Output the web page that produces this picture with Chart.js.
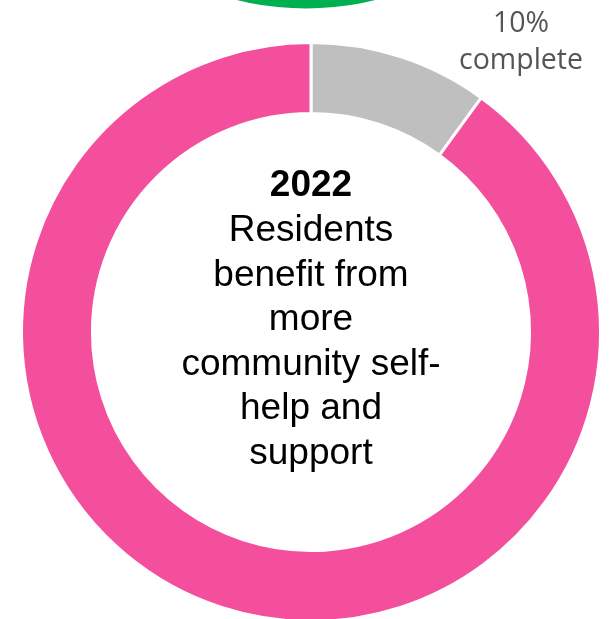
<!DOCTYPE html>
<html>
<head>
<meta charset="utf-8">
<script src="https://cdn.jsdelivr.net/npm/chart.js@4/dist/chart.umd.min.js"></script>
<style>
  html, body { margin: 0; padding: 0; background: #fff; overflow: hidden; width: 616px; height: 619px; }
  #wrap { position: relative; width: 616px; height: 619px; overflow: hidden; }
  #prevChart { position: absolute; left: 16px; top: -570px; }
  #progressChart { position: absolute; left: 0; top: 0; }
</style>
</head>
<body>
<div id="wrap">
  <canvas id="prevChart" width="580" height="580"></canvas>
  <canvas id="progressChart" width="616" height="640"></canvas>
</div>
<script>
// progress ring data
const progress_labels = ["Complete", "Remaining"];
const progress_values = [10, 90];
const progress_colors = ["#BFBFBF", "#F34F9D"];

// ring of the previous year, only its lower edge shows
const prev_labels = ["Complete"];
const prev_values = [100];
const prev_colors = ["#00B050"];

const centre_year = "2022";
const centre_lines = ["Residents", "benefit from", "more", "community self-", "help and", "support"];

//============================== CENTRE TEXT ===========================
const centreText = {
    id: "centreText",
    afterDraw(chart) {
        const ctx = chart.ctx;
        const arc = chart.getDatasetMeta(0).data[0];
        const cx = arc.x;
        ctx.save();
        ctx.textAlign = "center";
        ctx.textBaseline = "alphabetic";
        ctx.fillStyle = "#000";
        ctx.font = "bold 37px 'Liberation Sans', Arial, sans-serif";
        ctx.fillText(centre_year, cx, 196);
        ctx.font = "37px 'Liberation Sans', Arial, sans-serif";
        centre_lines.forEach((line, i) => {
            ctx.fillText(line, cx, 241 + i * 44.6);
        });

        // percentage label above the grey slice
        ctx.fillStyle = "#555555";
        ctx.font = "28.5px 'Open Sans', sans-serif";
        ctx.fillText(progress_values[0] + "%", 521, 32);
        ctx.fillText("complete", 521, 69);
        ctx.restore();
    }
};

const progress_config = {
    type: "doughnut",
    data: {
        labels: progress_labels,
        datasets: [{
            data: progress_values,
            backgroundColor: progress_colors,
            borderColor: "#fff",
            borderWidth: 3,
        }],
    },
    options: {
        responsive: false,
        maintainAspectRatio: false,
        animation: false,
        cutout: "75.5%",
        layout: { padding: { left: 20, right: 14, top: 41, bottom: 17 } },
        plugins: { legend: { display: false }, tooltip: { enabled: false } },
    },
    plugins: [centreText],
};

const prev_config = {
    type: "doughnut",
    data: {
        labels: prev_labels,
        datasets: [{
            data: prev_values,
            backgroundColor: prev_colors,
            borderWidth: 0,
        }],
    },
    options: {
        responsive: false,
        maintainAspectRatio: false,
        animation: false,
        cutout: "75.5%",
        layout: { padding: 1.5 },
        plugins: { legend: { display: false }, tooltip: { enabled: false } },
    },
};

const prevChart = new Chart(document.getElementById("prevChart").getContext("2d"), prev_config);
const progressChart = new Chart(document.getElementById("progressChart").getContext("2d"), progress_config);
</script>
</body>
</html>
